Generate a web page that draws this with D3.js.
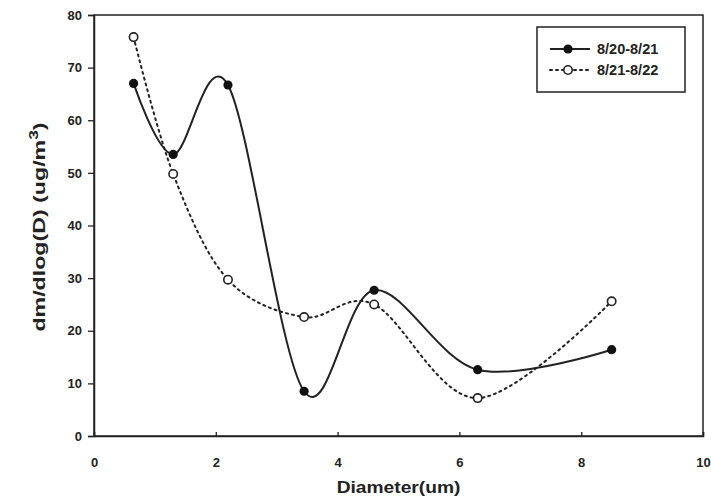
<!DOCTYPE html>
<html>
<head>
<meta charset="utf-8">
<script src="https://cdn.jsdelivr.net/npm/d3@7"></script>
<style>
  body { margin: 0; background: #fff; }
  svg { display: block; font-family: "Liberation Sans", Arial, sans-serif; }
</style>
</head>
<body>
<svg id="chart" width="711" height="500"></svg>
<script>
// ---- data ----
const diameters = [0.65, 1.3, 2.2, 3.45, 4.6, 6.3, 8.5];
const series1Name = "8/20-8/21";
const series1Values = [67, 53.5, 66.7, 8.5, 27.7, 12.6, 16.4];
const series2Name = "8/21-8/22";
const series2Values = [75.8, 49.8, 29.7, 22.6, 25.0, 7.2, 25.6];
const xTicks = [0, 2, 4, 6, 8, 10];
const yTicks = [0, 10, 20, 30, 40, 50, 60, 70, 80];

const svg = d3.select("#chart");
const ink = "#222";
const m = { left: 94, right: 8, top: 15, bottom: 64 };
const W = 711, H = 500;
const x = d3.scaleLinear().domain([0, 10]).range([m.left, W - m.right]);
const y = d3.scaleLinear().domain([0, 80]).range([H - m.bottom, m.top]);

// frame
svg.append("rect")
  .attr("x", x(0)).attr("y", y(80))
  .attr("width", x(10) - x(0)).attr("height", y(0) - y(80))
  .attr("fill", "none").attr("stroke", ink).attr("stroke-width", 1.5);

// y axis
const yAxis = svg.append("g").attr("transform", `translate(${x(0)},0)`)
  .call(d3.axisLeft(y).tickValues(yTicks).tickSize(6).tickPadding(6).tickFormat(d3.format("d")));
yAxis.select(".domain").attr("stroke", ink).attr("stroke-width", 1.5);
yAxis.selectAll(".tick line").attr("stroke", ink).attr("stroke-width", 1.3);
yAxis.selectAll(".tick text").attr("fill", ink).style("font-size", "13px").style("font-weight", "bold");

// x axis
const xAxis = svg.append("g").attr("transform", `translate(0,${y(0)})`)
  .call(d3.axisBottom(x).tickValues(xTicks).tickSize(-4).tickPadding(22).tickFormat(d3.format("d")));
xAxis.select(".domain").attr("stroke", ink).attr("stroke-width", 1.5);
xAxis.selectAll(".tick line").attr("stroke", ink).attr("stroke-width", 1.3);
xAxis.selectAll(".tick text").attr("fill", ink).style("font-size", "13px").style("font-weight", "bold");

// axis titles
svg.append("text")
  .attr("transform", `translate(${(x(0) + x(10)) / 2},493) scale(1.2,1)`)
  .attr("text-anchor", "middle").attr("fill", ink)
  .style("font-size", "16px").style("font-weight", "bold")
  .text("Diameter(um)");

const yt = svg.append("text")
  .attr("transform", `translate(45,227) rotate(-90) scale(1.45,1)`)
  .attr("text-anchor", "middle").attr("fill", ink)
  .style("font-size", "16px").style("font-weight", "bold");
yt.append("tspan").text("dm/dlog(D) (ug/m");
yt.append("tspan").attr("dy", -7).style("font-size", "12px").text("3");
yt.append("tspan").attr("dy", 7).text(")");

// lines
const data1 = diameters.map((d, i) => [d, series1Values[i]]);
const data2 = diameters.map((d, i) => [d, series2Values[i]]);
const line = d3.line().x(d => x(d[0])).y(d => y(d[1])).curve(d3.curveCatmullRom.alpha(0));

svg.append("path").datum(data2).attr("d", line)
  .attr("fill", "none").attr("stroke", ink).attr("stroke-width", 2)
  .attr("stroke-dasharray", "2,4").attr("stroke-linecap", "round");
svg.append("path").datum(data1).attr("d", line)
  .attr("fill", "none").attr("stroke", ink).attr("stroke-width", 2);

svg.selectAll(".p2").data(data2).enter().append("circle")
  .attr("cx", d => x(d[0])).attr("cy", d => y(d[1])).attr("r", 4.2)
  .attr("fill", "#fff").attr("stroke", ink).attr("stroke-width", 1.6);
svg.selectAll(".p1").data(data1).enter().append("circle")
  .attr("cx", d => x(d[0])).attr("cy", d => y(d[1])).attr("r", 4.6)
  .attr("fill", "#111");

// legend
const lg = svg.append("g");
lg.append("rect").attr("x", 537).attr("y", 27).attr("width", 148).attr("height", 65)
  .attr("fill", "#fff").attr("stroke", ink).attr("stroke-width", 1.5);
const rows = [
  { name: series1Name, dash: null, filled: true, yy: 49 },
  { name: series2Name, dash: "2,4", filled: false, yy: 70 }
];
rows.forEach(r => {
  lg.append("line").attr("x1", 550).attr("x2", 590).attr("y1", r.yy).attr("y2", r.yy)
    .attr("stroke", ink).attr("stroke-width", 2)
    .attr("stroke-dasharray", r.dash).attr("stroke-linecap", r.dash ? "round" : "butt");
  lg.append("circle").attr("cx", 568).attr("cy", r.yy).attr("r", r.filled ? 4.6 : 4.2)
    .attr("fill", r.filled ? "#111" : "#fff").attr("stroke", ink).attr("stroke-width", r.filled ? 0 : 1.6);
  lg.append("text").attr("x", 597).attr("y", r.yy + 5).attr("fill", ink)
    .style("font-size", "14.5px").style("font-weight", "bold").text(r.name);
});
</script>
</body>
</html>
